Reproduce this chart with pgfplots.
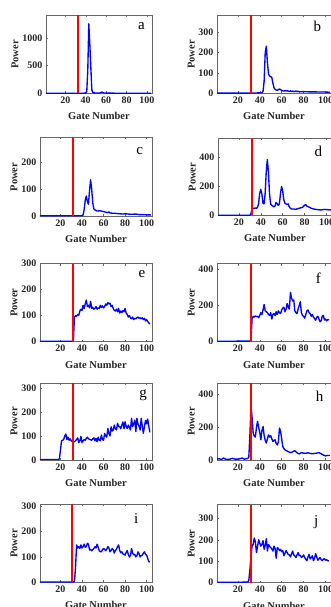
\documentclass[border=0pt]{standalone}
\usepackage{fontspec}
\setmainfont{Liberation Serif}
\usepackage{pgfplots}
\pgfplotsset{compat=1.18}
\pgfplotsset{
  panel/.style={
    scale only axis, width=112pt, height=78pt,
    xmin=1, xmax=105, ymin=0,
    xtick={20,40,60,80,100},
    axis line style={black!60, line width=0.6pt},
    tick style={black!60, line width=0.5pt},
    major tick length=2pt,
    tick align=inside,
    xtick pos=both, ytick pos=left,
    /pgf/number format/assume math mode=true,
    /pgf/number format/1000 sep={},
    ticklabel style={font=\bfseries\fontsize{10}{12}\selectfont, text=black!85},
    label style={font=\bfseries\fontsize{10.5}{12}\selectfont, text=black!85},
    xlabel={Gate Number}, ylabel={Power},
    xlabel style={yshift=-2pt},
    ylabel style={yshift=-3pt},
  },
  rpanel/.style={panel, width=114pt},
  sig/.style={blue, line width=1.35pt, line join=round},
  gate/.style={red, line width=2.1pt},
}
\tikzset{letter/.style={font=\fontsize{15}{15}\selectfont, text=black}}
\begin{document}
\begin{tikzpicture}
\useasboundingbox (0,0) rectangle (331pt,607pt);
% ---------- a ----------
\begin{axis}[panel, at={(46pt,513.5pt)}, anchor=south west, width=106pt, ymax=1400, ytick={0,500,1000}]
\addplot[sig] coordinates {(1,3)(10,4)(20,3)(30,4)(38,5)(40,8)(41,40)(42,420)(43,1250)(44,880)(45,460)(46,60)(47,20)(48,12)(50,8)(54,10)(56,25)(57,15)(58,8)(65,6)(75,5)(85,5)(95,4)(104,5)};
\addplot[gate] coordinates {(32,0)(32,1400)};
\node[letter] at (rel axis cs:0.9,0.86) {a};
\end{axis}
% ---------- b ----------
\begin{axis}[rpanel, at={(217pt,513.5pt)}, anchor=south west, ymax=380, ytick={0,100,200,300}]
\addplot[sig] coordinates {(1,2)(20,2)(30,2)(40,3)(42,4)(43,10)(44,60)(45,200)(46,230)(47,150)(48,95)(49,85)(50,82)(51,78)(52,50)(53,28)(54,20)(55,17)(56,16)(57,18)(58,22)(59,19)(60,15)(61,13)(62,12)(63,14)(64,12)(65,15)(66,11)(67,10)(68,13)(69,10)(70,12)(71,9)(72,10)(73,12)(74,9)(75,11)(76,8)(80,9)(85,8)(90,8)(95,7)(100,7)(104,6)};
\addplot[gate] coordinates {(32,0)(32,380)};
\node[letter] at (rel axis cs:0.88,0.86) {b};
\end{axis}
% ---------- c ----------
\begin{axis}[panel, at={(40pt,390.5pt)}, anchor=south west, height=79pt, ymax=290, ytick={0,100,200}]
\addplot[sig] coordinates {(1,3)(20,3)(30,3)(40,3)(41,5)(42,25)(43,60)(44,75)(45,55)(46,45)(47,95)(48,135)(49,100)(50,50)(51,28)(52,24)(53,22)(54,20)(56,21)(58,20)(60,18)(62,16)(64,14)(65,17)(66,13)(68,12)(70,12)(72,11)(75,10)(78,9)(80,10)(83,9)(86,8)(90,9)(93,7)(96,7)(100,6)(104,6)};
\addplot[gate] coordinates {(32,0)(32,290)};
\node[letter] at (rel axis cs:0.89,0.83) {c};
\end{axis}
% ---------- d ----------
\begin{axis}[rpanel, at={(218pt,391.5pt)}, anchor=south west, height=77pt, ymax=530, ytick={0,200,400}]
\addplot[sig] coordinates {(1,2)(10,2)(20,2)(30,2)(31,10)(32,45)(33,50)(34,48)(35,52)(36,50)(37,55)(38,80)(39,150)(40,180)(41,150)(42,85)(43,80)(44,150)(45,300)(46,385)(47,300)(48,150)(49,80)(50,70)(51,65)(52,60)(53,65)(54,90)(55,80)(56,70)(57,80)(58,150)(59,200)(60,170)(61,110)(62,85)(63,80)(64,75)(65,80)(66,60)(67,50)(68,45)(70,45)(72,42)(74,48)(76,52)(78,55)(80,70)(81,75)(82,65)(84,58)(86,50)(88,45)(90,42)(92,40)(95,38)(98,42)(101,40)(104,38)};
\addplot[gate] coordinates {(32,0)(32,530)};
\node[letter] at (rel axis cs:0.88,0.83) {d};
\end{axis}
% ---------- e ----------
\begin{axis}[panel, at={(40pt,265.3pt)}, anchor=south west, ymax=300, ytick={0,100,200,300}]
\addplot[sig] coordinates {(1,2)(10,2)(20,2)(31,2)(32,5)(33,95)(34,100)(35,98)(36,105)(37,102)(38,118)(39,125)(40,120)(41,140)(42,128)(43,145)(44,160)(45,135)(46,140)(47,130)(48,155)(49,128)(50,132)(51,125)(52,128)(53,135)(54,125)(55,130)(56,128)(57,140)(58,132)(59,138)(60,130)(61,135)(62,145)(63,140)(64,150)(65,145)(66,148)(67,135)(68,140)(69,128)(70,120)(71,118)(72,125)(73,115)(74,128)(75,110)(76,118)(77,112)(78,120)(79,115)(80,128)(81,110)(82,105)(83,95)(84,100)(85,92)(86,88)(87,95)(88,85)(89,90)(90,88)(91,92)(92,95)(93,90)(94,92)(95,88)(96,92)(97,85)(98,90)(99,80)(100,85)(101,78)(102,72)(103,68)};
\addplot[gate] coordinates {(32,0)(32,300)};
\node[letter] at (rel axis cs:0.91,0.87) {e};
\end{axis}
% ---------- f ----------
\begin{axis}[rpanel, at={(217pt,265.3pt)}, anchor=south west, ymax=430, ytick={0,200,400}]
\addplot[sig] coordinates {(1,2)(10,2)(20,3)(31,3)(32,10)(33,125)(34,140)(35,135)(36,142)(37,138)(38,140)(39,132)(40,145)(41,160)(42,150)(43,175)(44,205)(45,170)(46,165)(47,160)(48,150)(49,145)(50,160)(51,125)(52,150)(53,155)(54,145)(55,165)(56,150)(57,170)(58,160)(59,155)(60,175)(61,185)(62,190)(63,165)(64,180)(65,210)(66,190)(67,180)(68,272)(69,240)(70,225)(71,230)(72,170)(73,160)(74,155)(75,180)(76,200)(77,220)(78,160)(79,145)(80,140)(81,130)(82,150)(83,170)(84,175)(85,160)(86,155)(87,140)(88,150)(89,135)(90,128)(91,118)(92,135)(93,140)(94,125)(95,110)(96,115)(97,140)(98,145)(99,120)(100,125)(101,115)(102,122)(103,120)};
\addplot[gate] coordinates {(32,0)(32,430)};
\node[letter] at (rel axis cs:0.89,0.81) {f};
\end{axis}
% ---------- g ----------
\begin{axis}[panel, at={(40pt,147pt)}, anchor=south west, height=77pt, ymax=320, ytick={0,100,200,300}]
\addplot[sig] coordinates {(1,2)(10,2)(18,2)(19,5)(20,40)(21,80)(22,82)(23,85)(24,100)(25,108)(26,85)(27,95)(28,82)(29,88)(30,80)(31,76)(32,78)(33,76)(34,80)(35,85)(36,92)(37,72)(38,80)(39,98)(40,72)(41,80)(42,85)(43,82)(44,90)(45,95)(46,88)(47,86)(48,84)(49,82)(50,88)(51,92)(52,80)(53,90)(54,76)(55,95)(56,82)(57,80)(58,104)(59,85)(60,82)(61,110)(62,100)(63,95)(64,131)(65,110)(66,100)(67,138)(68,120)(69,125)(70,145)(71,130)(72,125)(73,152)(74,140)(75,138)(76,130)(77,145)(78,158)(79,130)(80,159)(81,140)(82,131)(83,145)(84,135)(85,125)(86,173)(87,138)(88,150)(89,166)(90,118)(91,173)(92,150)(93,140)(94,125)(95,173)(96,140)(97,111)(98,140)(99,165)(100,150)(101,170)(102,140)(103,115)};
\addplot[gate] coordinates {(32,0)(32,320)};
\node[letter] at (rel axis cs:0.92,0.84) {g};
\end{axis}
% ---------- h ----------
\begin{axis}[rpanel, at={(217pt,147pt)}, anchor=south west, height=77pt, ymax=470, ytick={0,200,400}]
\addplot[sig] coordinates {(1,5)(3,8)(5,3)(7,12)(9,5)(12,4)(15,10)(18,5)(21,6)(24,12)(26,5)(28,8)(29,10)(30,15)(31,150)(32,330)(33,260)(34,165)(35,145)(36,140)(37,200)(38,236)(39,200)(40,170)(41,123)(42,180)(43,205)(44,150)(45,120)(46,103)(47,130)(48,154)(49,140)(50,148)(51,130)(52,113)(53,120)(54,123)(55,100)(56,92)(57,110)(58,195)(59,175)(60,130)(61,82)(62,70)(63,62)(64,58)(65,55)(66,51)(67,48)(68,45)(70,50)(72,57)(73,50)(75,40)(76,37)(78,45)(80,42)(82,41)(84,44)(86,40)(88,38)(90,40)(92,42)(94,45)(96,38)(98,30)(100,25)(102,28)(104,27)};
\addplot[gate] coordinates {(32,0)(32,470)};
\node[letter] at (rel axis cs:0.9,0.83) {h};
\end{axis}
% ---------- i ----------
\begin{axis}[panel, at={(40pt,24.5pt)}, anchor=south west, ymax=305, ytick={0,100,200,300}]
\addplot[sig] coordinates {(1,2)(10,2)(20,2)(30,2)(33,3)(34,60)(35,147)(36,135)(37,140)(38,133)(39,147)(40,135)(41,140)(42,150)(43,138)(44,140)(45,153)(46,150)(47,127)(48,130)(49,124)(50,128)(51,133)(52,140)(53,135)(54,150)(55,138)(56,125)(57,120)(58,120)(59,128)(60,133)(61,130)(62,124)(63,130)(64,140)(65,135)(66,120)(67,125)(68,133)(69,128)(70,115)(71,125)(72,130)(73,140)(74,147)(75,125)(76,116)(77,120)(78,112)(79,110)(80,107)(81,118)(82,125)(83,110)(84,100)(85,105)(86,133)(87,115)(88,108)(89,110)(90,100)(91,105)(92,120)(93,112)(94,100)(95,105)(96,107)(97,115)(98,120)(99,110)(100,107)(101,95)(102,82)(103,80)};
\addplot[gate] coordinates {(31,0)(31,305)};
\node[letter] at (rel axis cs:0.86,0.82) {i};
\end{axis}
% ---------- j ----------
\begin{axis}[rpanel, at={(217pt,24.3pt)}, anchor=south west, ymax=365, ytick={0,100,200,300}]
\addplot[sig] coordinates {(1,2)(10,2)(20,2)(29,3)(30,10)(31,60)(32,120)(33,171)(34,180)(35,209)(36,190)(37,141)(38,170)(39,201)(40,185)(41,171)(42,180)(43,197)(44,156)(45,175)(46,206)(47,148)(48,179)(49,170)(50,164)(51,158)(52,148)(53,171)(54,160)(55,115)(56,164)(57,160)(58,150)(59,156)(60,145)(61,150)(62,126)(63,138)(64,150)(65,141)(66,132)(67,130)(68,121)(69,135)(70,148)(71,130)(72,125)(73,118)(74,130)(75,141)(76,126)(77,128)(78,118)(79,122)(80,130)(81,118)(82,110)(83,103)(84,120)(85,133)(86,111)(87,118)(88,126)(89,103)(90,115)(91,136)(92,120)(93,105)(94,111)(95,118)(96,108)(97,103)(98,110)(99,112)(100,105)(101,108)(102,103)(103,102)};
\addplot[gate] coordinates {(32,0)(32,365)};
\node[letter] at (rel axis cs:0.87,0.78) {j};
\end{axis}
\end{tikzpicture}
\end{document}
